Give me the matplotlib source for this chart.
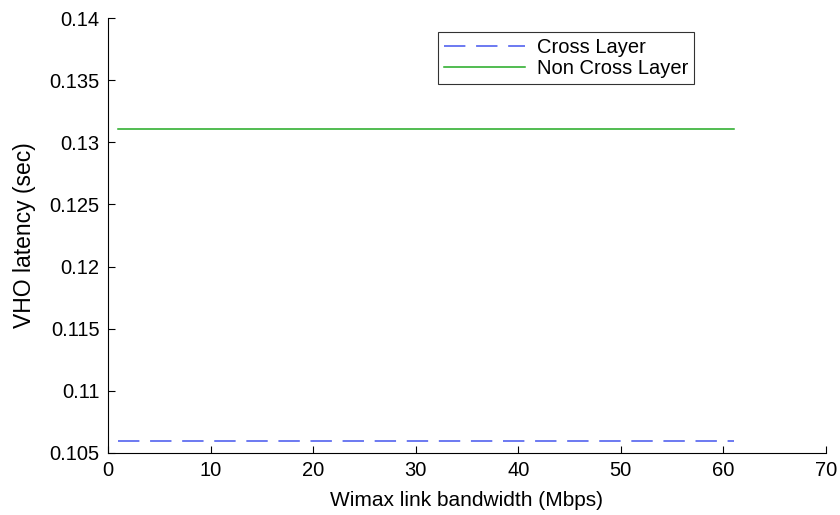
import matplotlib
matplotlib.use("Agg")
import matplotlib.pyplot as plt
import numpy as np

plt.rcParams['font.family'] = ['Liberation Sans', 'DejaVu Sans']

bandwidth = list(range(1, 62, 5))
cross_layer = [0.1060] * len(bandwidth)
non_cross_layer = [0.1311] * len(bandwidth)

fig = plt.figure(figsize=(8.4, 5.15), dpi=100)
ax = fig.add_axes([0.1286, 0.1204, 0.8547, 0.8446])

ax.plot(bandwidth, cross_layer, color='#4455ee', lw=1.1, dashes=(14, 7), label='Cross Layer')
ax.plot(bandwidth, non_cross_layer, color='#22aa22', lw=1.1, label='Non Cross Layer')

ax.set_xlim(0, 70)
ax.set_ylim(0.105, 0.14)
ax.set_xticks(range(0, 71, 10))
yt = [0.105, 0.11, 0.115, 0.12, 0.125, 0.13, 0.135, 0.14]
ax.set_yticks(yt)
ax.set_yticklabels([f"{v:g}" for v in yt])
ax.spines['top'].set_visible(False)
ax.spines['right'].set_visible(False)
ax.tick_params(direction='in', labelsize=14.5, length=5, pad=6)
ax.set_xlabel('Wimax link bandwidth (Mbps)', fontsize=15, labelpad=8)
ax.set_ylabel('VHO latency (sec)', fontsize=16.5, labelpad=10)

leg = ax.legend(loc='upper left', bbox_to_anchor=(0.4596, 0.968), fontsize=14.5,
                frameon=True, fancybox=False, edgecolor='black', handlelength=4.0,
                borderpad=0.3, labelspacing=0.1, handletextpad=0.6, borderaxespad=0.0)
leg.get_frame().set_linewidth(0.8)

fig.savefig('out.png', dpi=100)
